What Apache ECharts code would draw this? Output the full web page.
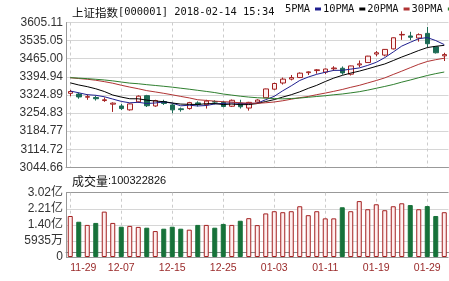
<!DOCTYPE html>
<html><head><meta charset="utf-8">
<style>html,body{margin:0;padding:0;background:#fff}#c{width:449px;height:281px}</style>
<script src="https://cdn.jsdelivr.net/npm/echarts@6/dist/echarts.min.js"></script>
</head><body><div id="c"></div>
<script>
const dates = ['11-29','11-30','12-01','12-04','12-05','12-06','12-07','12-08','12-11','12-12','12-13','12-14','12-15','12-18','12-19','12-20','12-21','12-22','12-25','12-26','12-27','12-28','12-29','01-02','01-03','01-04','01-05','01-08','01-09','01-10','01-11','01-12','01-15','01-16','01-17','01-18','01-19','01-22','01-23','01-24','01-25','01-26','01-29','01-30','01-31'];
const opens = [3331,3328,3316,3315,3303,3289,3282,3267,3298,3322,3282,3299,3286,3271,3272,3294,3287,3299,3296,3281,3293,3274,3297,3314,3347,3371,3386,3392,3411,3419,3413,3426,3428,3405,3441,3450,3483,3479,3503,3557,3553,3545,3563,3511,3476];
const closes = [3338,3317,3318,3310,3306,3293,3272,3290,3320,3283,3303,3292,3267,3268,3295,3288,3301,3297,3280,3304,3279,3296,3305,3348,3369,3386,3392,3409,3414,3422,3425,3429,3410,3437,3445,3475,3488,3501,3546,3559,3548,3558,3523,3488,3481];
const lows = [3320,3310,3306,3303,3298,3259,3266,3264,3294,3278,3279,3286,3254,3260,3268,3280,3272,3288,3277,3278,3272,3264,3293,3314,3345,3365,3381,3390,3402,3407,3405,3418,3403,3400,3432,3449,3474,3474,3501,3538,3537,3531,3510,3485,3456];
const highs = [3344,3334,3327,3322,3315,3296,3290,3292,3323,3325,3306,3306,3290,3276,3298,3300,3306,3304,3302,3307,3306,3298,3308,3349,3372,3392,3402,3412,3416,3425,3427,3436,3435,3438,3458,3476,3495,3502,3547,3571,3569,3563,3588,3512,3488];
// volume in 亿 (1e8)
const volumes = [1.85,1.56,1.40,1.50,2.07,1.50,1.31,1.35,1.30,1.26,1.09,1.21,1.31,1.21,1.16,1.40,1.40,1.26,1.45,1.40,1.61,1.74,1.39,1.98,2.09,2.04,2.09,2.34,1.89,2.09,1.73,1.73,2.29,2.09,2.60,2.19,2.44,2.14,2.34,2.49,2.40,2.19,2.35,1.85,2.04];
const ma5 = [3340.0,3333.0,3325.8,3323.4,3317.8,3308.8,3299.8,3294.2,3296.2,3291.6,3293.6,3297.6,3293.0,3282.6,3285.0,3282.0,3283.8,3289.8,3292.2,3294.0,3292.2,3291.2,3292.8,3306.4,3319.4,3340.8,3360.0,3380.8,3394.0,3404.6,3412.4,3419.8,3420.0,3424.6,3429.2,3439.2,3451.0,3469.2,3491.0,3513.8,3528.4,3542.4,3546.8,3535.2,3519.6];
const ma10 = [3371.5,3363.3,3356.8,3348.6,3338.1,3324.4,3316.4,3310.0,3309.8,3304.7,3301.2,3298.7,3293.6,3289.4,3288.3,3287.8,3290.7,3291.4,3287.4,3289.5,3287.1,3287.5,3291.3,3299.3,3306.7,3316.5,3325.6,3336.8,3350.2,3362.0,3376.6,3389.9,3400.4,3409.3,3416.9,3425.8,3435.4,3444.6,3457.8,3471.5,3483.8,3496.7,3508.0,3513.1,3516.7];
const ma20 = [3391.5,3388.2,3385.5,3381.6,3376.2,3370.1,3362.3,3355.1,3348.7,3341.4,3336.4,3331.0,3325.2,3319.0,3313.2,3306.1,3303.6,3300.7,3298.6,3297.1,3294.2,3293.1,3292.5,3294.4,3297.5,3302.2,3308.2,3314.1,3318.8,3325.8,3331.9,3338.7,3345.9,3354.3,3361.8,3371.2,3380.5,3390.7,3404.0,3416.8,3430.2,3443.3,3454.2,3461.2,3466.8];
const ma30 = [3391.6,3389.8,3387.8,3385.4,3382.7,3379.2,3374.7,3370.5,3368.1,3364.5,3361.4,3358.3,3354.8,3350.8,3346.9,3342.6,3338.4,3333.9,3328.3,3324.1,3319.9,3316.5,3313.9,3312.4,3311.0,3309.6,3310.9,3312.7,3315.8,3318.7,3321.6,3325.4,3328.4,3332.7,3337.3,3343.4,3350.6,3357.6,3365.1,3374.3,3382.5,3391.4,3399.9,3407.2,3413.4];
const maNames = ['5PMA','10PMA','20PMA','30PMA'];
const maColors = ['#1f1f8f','#000000','#b03333','#2f7f2f'];

const upBorder = '#a32020', upFill = '#ffeeee', downColor = '#1c6b55', volDown = '#17723a';
const chart = echarts.init(document.getElementById('c'), null, {renderer: 'canvas'});
const mono = 'DejaVu Sans Mono';
const sans = 'Liberation Sans, Noto Sans CJK SC';
const grids = [
  {left: 66, right: 0.5, top: 22.5, height: 144.8},
  {left: 66, right: 0.5, top: 192.7, height: 64.3}
];
const splitV = {show: true, interval: 5, alignWithLabel: true, lineStyle: {color: '#cccccc', type: [3, 3], width: 1}};
const option = {
  animation: false,
  backgroundColor: '#ffffff',
  title: [
    {text: '{c|上证指数}{a|[000001] 2018-02-14 15:34}', left: 67, top: 2,
     textStyle: {fontWeight: 'normal', rich: {c: {fontFamily: 'Noto Sans CJK SC', fontSize: 11.5, fontWeight: 'normal', color: '#111'}, a: {fontFamily: mono, fontSize: 10.4, fontWeight: 'normal', color: '#111'}}}},
    {text: '{c|成交量}{a|:100322826}', left: 67, top: 170,
     textStyle: {fontWeight: 'normal', rich: {c: {fontFamily: 'Noto Sans CJK SC', fontSize: 12, fontWeight: 'normal', color: '#111'}, a: {fontFamily: 'Liberation Sans', fontSize: 11, fontWeight: 'normal', color: '#111'}}}}
  ],
  legend: {
    data: maNames, left: 285, top: 4, width: 400, padding: 0, align: 'right', icon: 'rect', itemWidth: 6, itemHeight: 3, itemGap: 2,
    textStyle: {fontFamily: mono, fontSize: 10.4, color: '#111'}
  },
  grid: grids,
  xAxis: [
    {type: 'category', gridIndex: 0, data: dates, boundaryGap: true,
     axisLine: {show: true, lineStyle: {color: '#999'}}, axisTick: {show: false}, axisLabel: {show: false}, splitLine: splitV},
    {type: 'category', gridIndex: 1, data: dates, boundaryGap: true,
     axisLine: {show: true, lineStyle: {color: '#888'}}, axisTick: {show: false},
     axisLabel: {interval: 5, color: '#9a2a2a', fontSize: 10.5, fontFamily: 'Liberation Sans', margin: 6, alignMinLabel: 'left'},
     splitLine: splitV}
  ],
  yAxis: [
    {type: 'value', gridIndex: 0, min: 3044.66, max: 3605.11, interval: 70.0563, scale: true,
     axisLine: {show: true, lineStyle: {color: '#999'}}, axisTick: {show: false},
     axisLabel: {formatter: v => v.toFixed(2), color: '#333', fontSize: 12, fontFamily: 'Liberation Sans', margin: 3},
     splitLine: {show: true, lineStyle: {color: '#d6d6d6'}}},
    {type: 'value', gridIndex: 1, min: -0.2165, max: 3.0235, interval: 0.81, startValue: -0.2165,
     axisLine: {show: true, lineStyle: {color: '#999'}}, axisTick: {show: false},
     axisLabel: {formatter: v => v < 0 ? '0' : (v < 1 ? Math.round(v * 10000) + '万' : v.toFixed(2) + '亿'),
                 color: '#333', fontSize: 12, fontFamily: sans, margin: 3},
     splitLine: {show: true, lineStyle: {color: ['#999', '#d6d6d6', '#d6d6d6', '#d6d6d6', '#999']}}}
  ],
  series: [
    {type: 'candlestick', name: 'K', xAxisIndex: 0, yAxisIndex: 0, barWidth: 5,
     data: dates.map((d, i) => [opens[i], closes[i], lows[i], highs[i]]),
     itemStyle: {color: upFill, color0: downColor, borderColor: upBorder, borderColor0: downColor, borderWidth: 1}},
    ...[ma5, ma10, ma20, ma30].map((arr, k) => ({
      type: 'line', name: maNames[k], xAxisIndex: 0, yAxisIndex: 0, data: arr,
      symbol: 'none', showSymbol: false, smooth: false,
      lineStyle: {width: 1, color: maColors[k]}, itemStyle: {color: maColors[k]}
    })),
    {type: 'bar', name: 'VOL', xAxisIndex: 1, yAxisIndex: 1, barWidth: 5,
     data: volumes.map((v, i) => ({value: v, itemStyle: closes[i] >= opens[i]
        ? {color: upFill, borderColor: upBorder, borderWidth: 1}
        : {color: volDown, borderColor: volDown, borderWidth: 1}}))}
  ]
};
chart.setOption(option);
</script></body></html>
